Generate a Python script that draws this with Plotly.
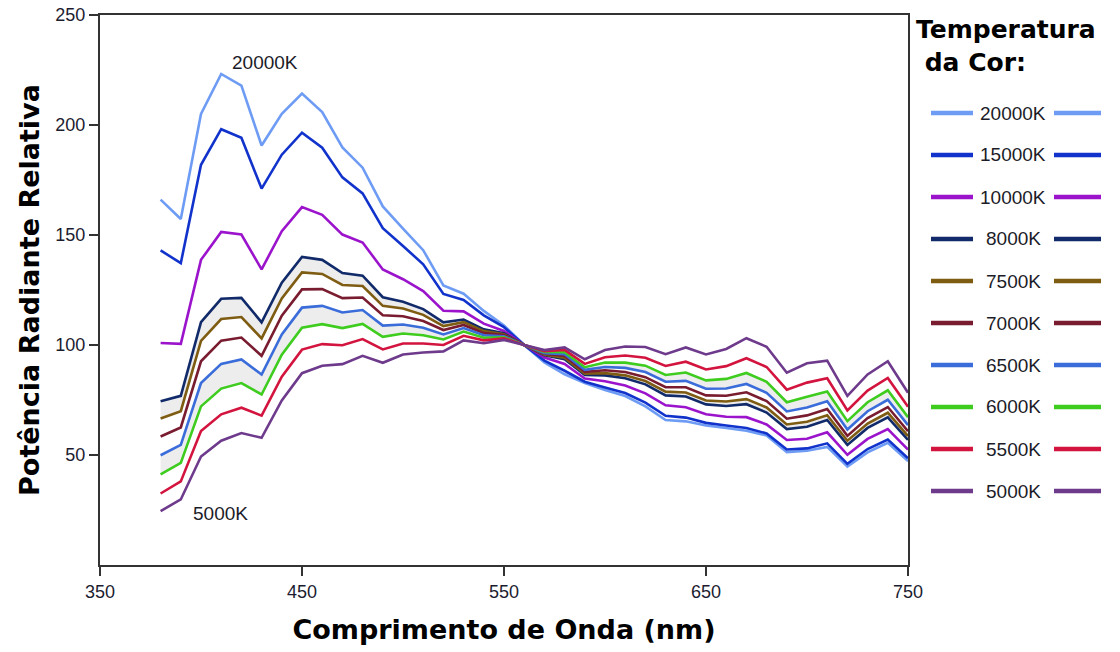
import plotly.graph_objects as go

# ---------------- data ----------------
wavelength = [380, 390, 400, 410, 420, 430, 440, 450, 460, 470, 480, 490, 500, 510,
              520, 530, 540, 550, 560, 570, 580, 590, 600, 610, 620, 630, 640, 650,
              660, 670, 680, 690, 700, 710, 720, 730, 740, 750]

t20000 = [166.1, 157.3, 205.0, 223.2, 217.9, 190.7, 205.1, 214.3, 205.9, 189.8, 180.6, 163.0, 152.9, 143.1,
          127.1, 123.3, 115.5, 108.9, 100.0, 92.1, 86.7, 82.7, 79.5, 76.8, 72.1, 65.9, 65.3, 63.4,
          62.3, 61.0, 58.9, 51.3, 51.9, 53.7, 44.7, 51.2, 55.5, 47.2]
t15000 = [143.0, 137.2, 181.9, 198.1, 194.2, 171.1, 186.5, 196.5, 189.7, 176.2, 168.9, 153.1, 145.0, 136.7,
          123.2, 120.5, 113.5, 108.1, 100.0, 92.9, 88.3, 83.3, 80.7, 78.2, 73.8, 67.8, 67.0, 64.6,
          63.4, 62.3, 59.8, 52.5, 53.0, 55.3, 46.0, 52.7, 57.0, 48.5]
t10000 = [100.9, 100.5, 138.7, 151.4, 150.2, 134.4, 151.7, 162.7, 159.2, 150.2, 146.6, 134.3, 129.9, 124.5,
          115.6, 115.3, 109.7, 106.4, 100.0, 94.3, 91.4, 84.8, 83.5, 81.6, 78.0, 72.6, 71.7, 68.5,
          67.4, 67.2, 63.9, 56.8, 57.4, 60.3, 50.1, 57.3, 61.8, 52.5]
t8000 = [74.4, 76.9, 110.4, 121.0, 121.4, 110.3, 128.3, 140.0, 138.7, 132.7, 131.5, 121.7, 119.7, 116.3,
         110.3, 111.6, 107.1, 105.3, 100.0, 95.3, 93.5, 86.4, 86.2, 84.9, 82.1, 77.1, 76.6, 73.0,
         72.3, 73.1, 69.3, 61.8, 62.8, 65.9, 54.6, 62.3, 67.1, 56.9]
t7500 = [66.6, 69.9, 101.9, 111.8, 112.7, 103.0, 121.2, 133.0, 132.3, 127.3, 126.8, 117.8, 116.6, 113.7,
         108.6, 110.4, 106.3, 104.9, 100.0, 95.6, 94.2, 87.0, 87.2, 86.2, 83.6, 78.8, 78.4, 74.8,
         74.3, 75.4, 71.6, 63.9, 65.1, 68.1, 56.5, 64.3, 69.2, 58.6]
t7000 = [58.4, 62.5, 92.6, 102.0, 103.4, 95.1, 113.3, 125.3, 125.4, 121.3, 121.6, 113.5, 113.1, 110.9,
         106.8, 109.1, 105.4, 104.5, 100.0, 96.0, 95.0, 87.8, 88.5, 87.7, 85.4, 80.8, 80.8, 77.1,
         76.9, 78.5, 74.5, 66.5, 68.0, 70.9, 58.7, 66.8, 71.8, 60.8]
t6500 = [49.9, 54.6, 82.7, 91.4, 93.4, 86.6, 104.8, 117.0, 117.8, 114.8, 115.9, 108.8, 109.3, 107.8,
         104.8, 107.7, 104.4, 104.0, 100.0, 96.3, 95.8, 88.7, 90.0, 89.6, 87.7, 83.3, 83.7, 80.1,
         80.2, 82.3, 78.3, 69.8, 71.6, 74.4, 61.6, 69.9, 75.1, 63.6]
t6000 = [41.2, 46.4, 72.1, 80.2, 82.7, 77.5, 95.6, 107.9, 109.5, 107.7, 109.6, 103.7, 105.2, 104.4,
         102.5, 106.1, 103.3, 103.5, 100.0, 96.8, 96.7, 89.9, 92.0, 92.0, 90.6, 86.4, 87.5, 83.9,
         84.6, 87.3, 83.3, 74.0, 76.5, 78.9, 65.4, 74.0, 79.4, 67.2]
t5500 = [32.5, 38.0, 60.9, 68.5, 71.5, 67.9, 85.6, 97.9, 100.4, 99.9, 102.7, 98.0, 100.7, 100.7,
         100.0, 104.2, 102.1, 103.0, 100.0, 97.2, 97.8, 91.4, 94.4, 95.2, 94.2, 90.5, 92.4, 88.9,
         90.4, 94.0, 90.0, 79.7, 82.9, 84.9, 70.3, 79.3, 85.0, 71.9]
t5000 = [24.5, 29.8, 49.3, 56.5, 60.0, 57.8, 74.8, 87.2, 90.6, 91.3, 95.1, 91.9, 95.7, 96.6,
         97.1, 102.1, 100.8, 102.3, 100.0, 97.7, 98.9, 93.5, 97.7, 99.3, 99.1, 95.8, 98.9, 95.7,
         98.2, 103.1, 99.2, 87.4, 91.7, 92.9, 76.9, 86.6, 92.6, 78.3]

series_names = ["20000K", "15000K", "10000K", "8000K", "7500K", "7000K", "6500K", "6000K", "5500K", "5000K"]
series_values = [t20000, t15000, t10000, t8000, t7500, t7000, t6500, t6000, t5500, t5000]
series_colors = ["#6E9CF4", "#1133CC", "#9B14CC", "#112A6A", "#7E5C12", "#7A1C30",
                 "#3A6CDA", "#3ECC1E", "#D2143E", "#6E3A8C"]

x_ticks = [350, 450, 550, 650, 750]
y_ticks = [50, 100, 150, 200, 250]

# ---------------- figure ----------------
W, H = 1120, 652
L, R, T, B = 100, 212, 15, 87
PW, PH = W - L - R, H - T - B


def px_x(px):
    return (px - L) / PW


def px_y(py):
    return (H - B - py) / PH


fig = go.Figure()

FILL = "rgba(215,215,215,0.45)"
# shaded bands (8000K-7500K and 6500K-6000K)
for upper, lower in [(t8000, t7500), (t6500, t6000)]:
    fig.add_trace(go.Scatter(x=wavelength, y=upper, mode="lines", line=dict(width=0),
                             hoverinfo="skip", showlegend=False))
    fig.add_trace(go.Scatter(x=wavelength, y=lower, mode="lines", line=dict(width=0),
                             fill="tonexty", fillcolor=FILL, hoverinfo="skip", showlegend=False))

for name, vals, col in zip(series_names, series_values, series_colors):
    fig.add_trace(go.Scatter(x=wavelength, y=vals, mode="lines", name=name,
                             line=dict(color=col, width=2.6), showlegend=False))

AX = dict(showline=True, mirror=True, linecolor="#333333", linewidth=2,
          ticks="outside", ticklen=9, tickwidth=2, tickcolor="#333333",
          showgrid=False, zeroline=False,
          tickfont=dict(family="Liberation Sans, Arial, sans-serif", size=18, color="#1c1c30"))

TITLE_FONT = dict(family="DejaVu Sans, Verdana, sans-serif", size=27, color="#000000")

fig.update_layout(
    width=W, height=H,
    margin=dict(l=L, r=R, t=T, b=B, autoexpand=False),
    paper_bgcolor="white", plot_bgcolor="white",
    xaxis=dict(range=[350, 750], tickvals=x_ticks, ticktext=[str(v) for v in x_ticks],
               title=dict(text="<b>Comprimento de Onda (nm)</b>", font=TITLE_FONT, standoff=20),
               **AX),
    yaxis=dict(range=[0, 250], tickvals=y_ticks, ticktext=[str(v) for v in y_ticks],
               title=dict(text="<b>Potência Radiante Relativa</b>", font=TITLE_FONT, standoff=8),
               **AX),
    showlegend=False,
)

LABEL_FONT = dict(family="Liberation Sans, Arial, sans-serif", size=19, color="#1c1c28")

# in-plot labels
fig.add_annotation(x=431.5, y=228.5, xref="x", yref="y", text="20000K", showarrow=False,
                   font=LABEL_FONT)
fig.add_annotation(x=409.5, y=23.5, xref="x", yref="y", text="5000K", showarrow=False,
                   font=LABEL_FONT)

# custom legend (lines on both sides of each label)
fig.add_annotation(x=px_x(914), y=px_y(13), xref="paper", yref="paper",
                   xanchor="left", yanchor="top", align="left", showarrow=False,
                   text="<b>Temperatura</b><br><b> da Cor:</b>",
                   font=dict(family="DejaVu Sans, Verdana, sans-serif", size=25, color="#000000"))

legend_y0, legend_dy = 113, 42
for i, (name, col) in enumerate(zip(series_names, series_colors)):
    py = legend_y0 + i * legend_dy
    for x0, x1 in [(931, 973), (1054, 1101)]:
        fig.add_shape(type="line", xref="paper", yref="paper",
                      x0=px_x(x0), x1=px_x(x1), y0=px_y(py), y1=px_y(py),
                      line=dict(color=col, width=4.5))
    fig.add_annotation(x=px_x(1013), y=px_y(py), xref="paper", yref="paper",
                       text=name, showarrow=False, xanchor="center", yanchor="middle",
                       font=LABEL_FONT)

fig.write_html("out.html")
